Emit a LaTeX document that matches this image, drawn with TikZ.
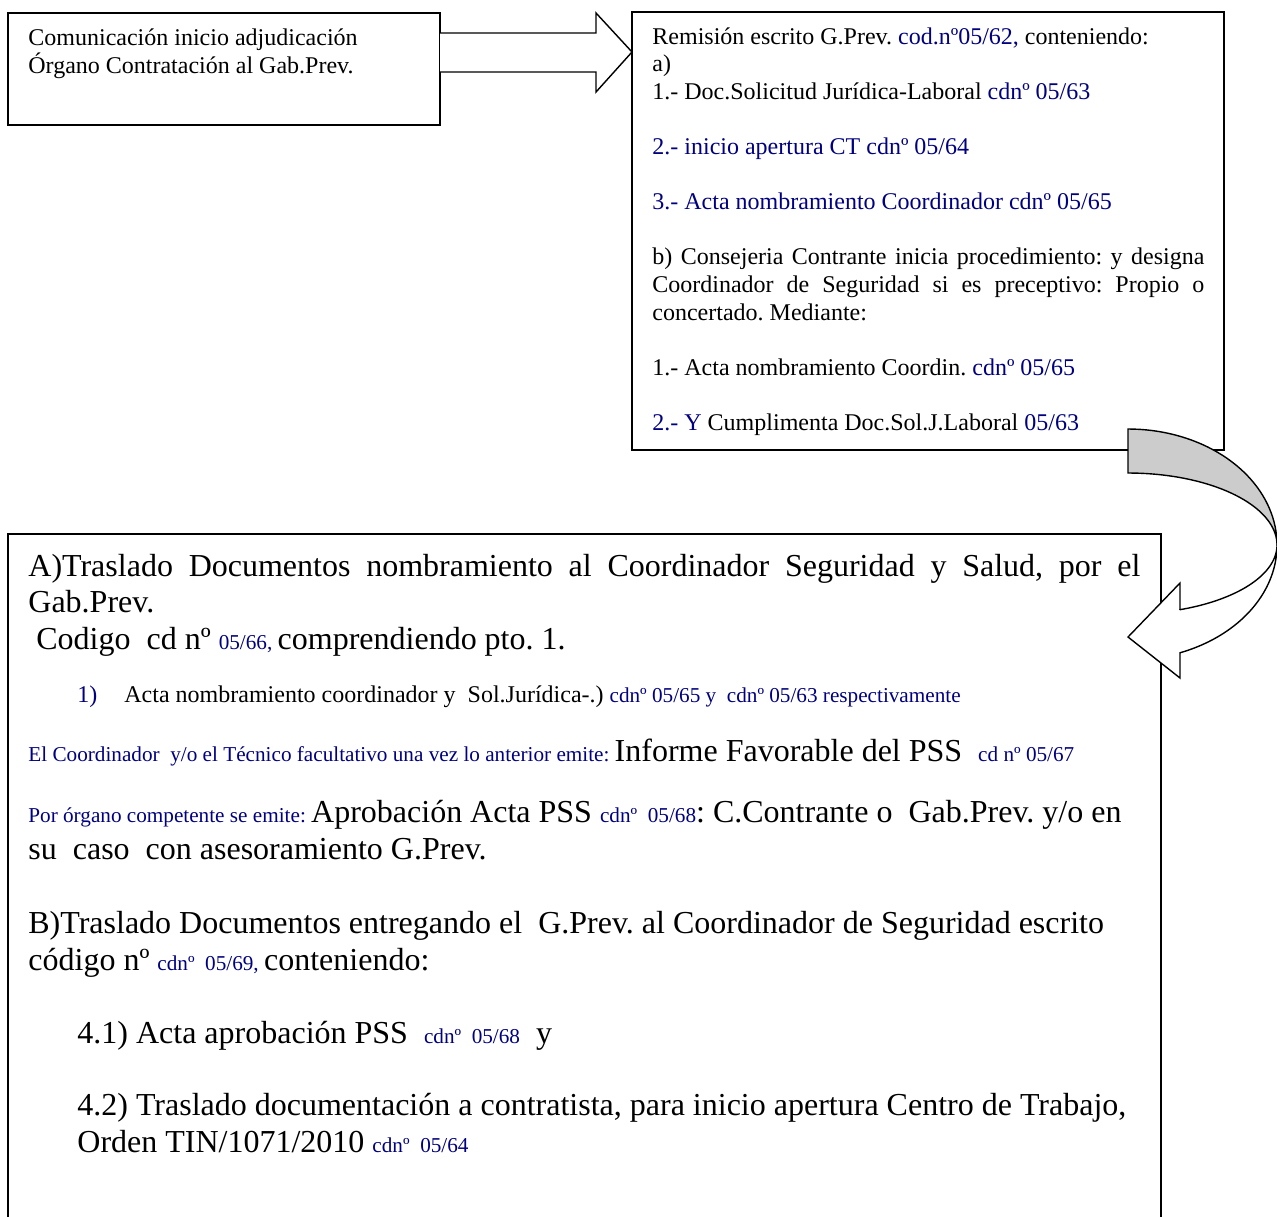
\documentclass[tikz,border=0pt]{standalone}
\usepackage{fontspec}
\setmainfont{Liberation Serif}
\frenchspacing
\definecolor{navy}{RGB}{0,0,128}
\definecolor{arrowgray}{RGB}{204,204,204}
\newcommand{\azul}[1]{{\color{navy}#1}}
\newcommand{\codn}[1]{{\color{navy}\fontsize{10.6}{12.2}\selectfont #1}}
\tikzset{
  txt/.style={anchor=base west, inner sep=0pt, font=\fontsize{12}{13.8}\selectfont},
  bigtxt/.style={anchor=base west, inner sep=0pt, font=\fontsize{16}{18.4}\selectfont},
  boxline/.style={line width=0.8pt},
  blockarrow/.style={line width=0.7pt, line join=miter}
}
\begin{document}
\begin{tikzpicture}[x=0.5pt,y=-0.5pt]
\clip (0,0) rectangle (1277,1216);
\fill[white] (0,0) rectangle (1277,1216);

\draw[boxline] (8,13) rectangle (440,125);
\node[txt] (com1) at (28,45) {Comunicación inicio adjudicación};
\node[txt] (com2) at (28,73) {Órgano Contratación al Gab.Prev.};

\draw[boxline] (632,12) rectangle (1224,450);
\node[txt] (rem) at (652,44) {Remisión escrito G.Prev. \azul{cod.nº05/62,} conteniendo:};
\node[txt] (ra) at (652,71.6) {a)};
\node[txt] (ra1) at (652,99.2) {1.- Doc.Solicitud Jurídica-Laboral \azul{cdnº 05/63}};
\node[txt] (ra2) at (652,154.4) {\azul{2.- inicio apertura CT cdnº 05/64}};
\node[txt] (ra3) at (652,209.6) {\azul{3.- Acta nombramiento Coordinador cdnº 05/65}};
\node[txt] (rb) at (652,264.8) {\makebox[276pt][s]{b) Consejeria Contrante inicia procedimiento: y designa}};
\node[txt] (rb2) at (652,292.4) {\makebox[276pt][s]{Coordinador de Seguridad si es preceptivo: Propio o}};
\node[txt] (rb3) at (652,320) {concertado. Mediante:};
\node[txt] (rb4) at (652,375.2) {1.- Acta nombramiento Coordin. \azul{cdnº 05/65}};
\node[txt] (rb5) at (652,430.4) {\azul{2.- Y} Cumplimenta Doc.Sol.J.Laboral \azul{05/63}};

\draw[boxline] (8,534) rectangle (1161,1240);
\node[bigtxt] (ta) at (28,576) {\makebox[556pt][s]{A)Traslado Documentos nombramiento al Coordinador Seguridad y Salud, por el}};
\node[bigtxt] (ta2) at (28,612.5) {Gab.Prev.};
\node[bigtxt] (ta3) at (36,649) {Codigo\ \ cd nº \codn{05/66,}\,comprendiendo pto. 1.};
\node[txt] (ta4n) at (77,702) {\azul{1)}};
\node[txt] (ta4) at (124,702) {Acta nombramiento coordinador y\ \ Sol.Jurídica-.) \codn{cdnº 05/65 y\ \ cdnº 05/63 respectivamente}};
\node[bigtxt] (inf) at (28,761) {\codn{El Coordinador\ \ y/o el Técnico facultativo una vez lo anterior emite: }Informe Favorable del PSS\ \ \codn{cd nº 05/67}};
\node[bigtxt] (apr) at (28,822) {\codn{Por órgano competente se emite: }Aprobación Acta PSS \codn{cdnº\ \ 05/68}: C.Contrante o\ \ Gab.Prev. y/o en};
\node[bigtxt] (apr2) at (28,859) {su\ \ caso\ \ con asesoramiento G.Prev.};
\node[bigtxt] (tb) at (28,933) {B)Traslado Documentos entregando el\ \ G.Prev. al Coordinador de Seguridad escrito};
\node[bigtxt] (tb2) at (28,970) {código nº \codn{cdnº\ \ 05/69,}\,conteniendo:};
\node[bigtxt] (tb41) at (77,1043) {4.1) Acta aprobación PSS\ \ \codn{cdnº\ \ 05/68}\ \ y};
\node[bigtxt] (tb42) at (77,1115) {4.2) Traslado documentación a contratista, para inicio apertura Centro de Trabajo,};
\node[bigtxt] (tb43) at (77,1152) {Orden TIN/1071/2010 \codn{cdnº\ \ 05/64}};

\draw[blockarrow, fill=white] (440,33) -- (596,33) -- (596,13) -- (632,52) -- (596,92) -- (596,72) -- (440,72);

\filldraw[blockarrow, fill=arrowgray] plot[domain=-90:0, samples=40] ({1128+149*cos(\x)},{545+116*sin(\x)})
  -- plot[domain=0:-90, samples=40] ({1128+149*cos(\x)},{545+72*sin(\x)}) -- cycle;
\filldraw[blockarrow, fill=white] plot[domain=0:69.6, samples=40] ({1128+149*cos(\x)},{545+115*sin(\x)})
  -- (1180,678) -- (1128,637) -- (1180,583) -- (1180,610)
  -- plot[domain=69.6:0, samples=40] ({1128+149*cos(\x)},{545+69*sin(\x)}) -- cycle;
\end{tikzpicture}
\end{document}
